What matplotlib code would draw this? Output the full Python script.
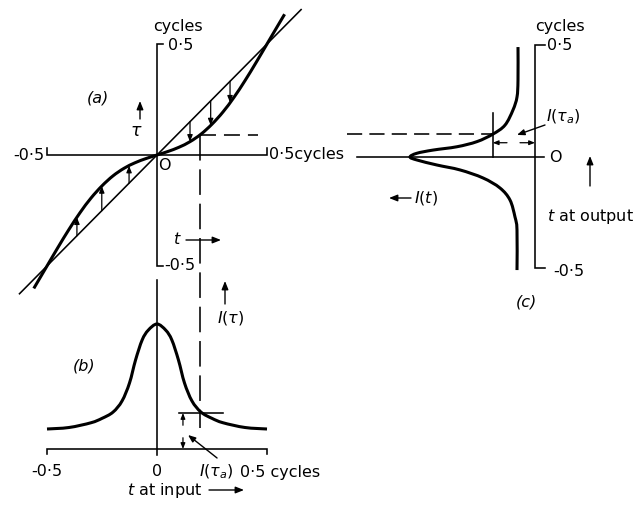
import matplotlib
matplotlib.use("Agg")
import matplotlib.pyplot as plt
from matplotlib.patches import ArrowStyle, PathPatch
from matplotlib.path import Path
import numpy as np

plt.rcParams['font.family'] = ['DejaVu Sans']
plt.rcParams['mathtext.fontset'] = 'dejavusans'

# ---------------- data (cycles) ----------------
# (a) transfer curve tau(t)
a_t = [-0.56, -0.55, -0.5, -0.45, -0.4, -0.35, -0.3, -0.25, -0.2, -0.15, -0.1, -0.05, 0.0,
       0.05, 0.1, 0.15, 0.2, 0.25, 0.3, 0.35, 0.4, 0.45, 0.5, 0.55, 0.58]
a_tau = [-0.601, -0.584, -0.5, -0.416, -0.335, -0.26, -0.194, -0.139, -0.094, -0.06, -0.035, -0.016, 0.0,
         0.016, 0.035, 0.06, 0.094, 0.139, 0.194, 0.26, 0.335, 0.416, 0.5, 0.584, 0.634]
a_line = [-0.625, 0.655]                 # straight line tau = t
a_arrow_t = [-0.364, -0.251, -0.127, 0.15, 0.244, 0.332]
a_t0, a_tau0 = 0.197, 0.092              # marked point
a_dash_end = 0.459

# (b) I(tau) versus t at input
b_t = [-0.5, -0.4, -0.3, -0.25, -0.2, -0.159, -0.125, -0.0975, -0.0675, -0.04, 0.0,
       0.04, 0.0675, 0.0975, 0.125, 0.159, 0.2, 0.25, 0.3, 0.4, 0.5]
b_I = [0.16, 0.172, 0.21, 0.245, 0.295, 0.384, 0.528, 0.712, 0.872, 0.95, 1.0,
       0.95, 0.872, 0.712, 0.528, 0.384, 0.295, 0.245, 0.21, 0.172, 0.16]
b_Ia = 0.288

# (c) I(t) versus t at output (plotted leftwards), lower branch then upper branch
c_lo_t = [-0.507, -0.327, -0.269, -0.193, -0.139, -0.094, -0.058, -0.036, -0.0135]
c_lo_I = [0.144, 0.144, 0.16, 0.2, 0.28, 0.416, 0.6, 0.784, 0.944]
c_tip_t, c_tip_I = 0.0, 1.0
c_up_t = [0.0166, 0.031, 0.046, 0.069, 0.103, 0.143, 0.211, 0.269, 0.345, 0.493]
c_up_I = [0.946, 0.816, 0.624, 0.464, 0.336, 0.24, 0.176, 0.144, 0.136, 0.136]
c_ta = 0.102
c_Ia = 0.338

# ---------------- layout ----------------
W, H = 635, 505
fig = plt.figure(figsize=(W / 100, H / 100), dpi=100, facecolor='white')

def full_axes(xlim, ylim, z):
    ax = fig.add_axes([0, 0, 1, 1], zorder=z)
    ax.set_xlim(*xlim)
    ax.set_ylim(*ylim)
    ax.axis('off')
    ax.patch.set_alpha(0)
    return ax

# panel (a): x px = 157 + 220 t ; y px = 155 - 222 tau
axA = full_axes((-157 / 220, (W - 157) / 220), ((155 - H) / 222, 155 / 222), 1)
# panel (b): x px = 157 + 220 t ; y px = 449 - 125 I
axB = full_axes((-157 / 220, (W - 157) / 220), ((449 - H) / 125, 449 / 125), 2)
# panel (c): x px = 535 - 125 I ; y px = 157 - 223 t
axC = full_axes((535 / 125, (535 - W) / 125), ((157 - H) / 223, 157 / 223), 3)
# pixel axes for annotations
axP = full_axes((0, W), (H, 0), 4)

K = 'black'
LW_AX = 1.15
LW_CURVE = 2.2
FS = 11.5
head = ArrowStyle('-|>', head_length=0.55, head_width=0.22)

def smooth(ax, xs, ys, lw):
    """Draw a smooth (Catmull-Rom -> cubic Bezier) curve through the given points."""
    P = np.column_stack([xs, ys]).astype(float)
    n = len(P)
    verts = [P[0]]
    codes = [Path.MOVETO]
    for i in range(n - 1):
        p0 = P[i - 1] if i > 0 else P[i]
        p1, p2 = P[i], P[i + 1]
        p3 = P[i + 2] if i + 2 < n else P[i + 1]
        verts += [p1 + (p2 - p0) / 6, p2 - (p3 - p1) / 6, p2]
        codes += [Path.CURVE4] * 3
    ax.add_patch(PathPatch(Path(verts, codes), fill=False, lw=lw, ec=K,
                           capstyle='butt', joinstyle='round'))

def arrow(ax, x0, y0, x1, y1, ms=9, lw=1.0):
    ax.annotate('', xy=(x1, y1), xytext=(x0, y0),
                arrowprops=dict(arrowstyle=head, color=K, lw=lw, shrinkA=0, shrinkB=0,
                                mutation_scale=ms))

# ---- panel (a)
axA.plot([-0.5, -0.5, 0.5, 0.5], [0.032, 0, 0, 0.032], color=K, lw=LW_AX, solid_joinstyle='miter')
axA.plot([0.028, 0, 0, 0.028], [0.5, 0.5, -0.5, -0.5], color=K, lw=LW_AX, solid_joinstyle='miter')
axA.plot(a_line, a_line, color=K, lw=LW_AX)
smooth(axA, a_t, a_tau, LW_CURVE)
for t in a_arrow_t:
    arrow(axA, t, t, t, float(np.interp(t, a_t, a_tau)), ms=7, lw=0.9)
axA.plot([a_t0, a_dash_end], [a_tau0, a_tau0], color=K, lw=LW_AX, dashes=(10, 5))
# vertical dashed line through (a) and (b)
end_b = axA.transData.inverted().transform(axB.transData.transform((a_t0, 0.168)))
axA.plot([a_t0, a_t0], [a_tau0, end_b[1]], color=K, lw=LW_AX, dashes=(16, 5.5))

axP.text(178, 26, 'cycles', fontsize=FS, ha='center', va='center')
axP.text(168, 46, '0·5', fontsize=FS, ha='left', va='center')
axP.text(98, 98, '(a)', fontsize=FS, ha='center', va='center', style='italic')
arrow(axP, 140, 119, 140, 101)
axP.text(136, 131, 'τ', fontsize=FS + 1, ha='center', va='center', style='italic')
axP.text(44, 155, '-0·5', fontsize=FS, ha='right', va='center')
axP.text(164, 165, 'O', fontsize=FS, ha='center', va='center')
axP.text(269, 155, '0·5cycles', fontsize=FS, ha='left', va='center')
axP.text(177, 240, 't', fontsize=FS, ha='center', va='center', style='italic')
arrow(axP, 186, 240, 221, 240)
axP.text(164, 266, '-0·5', fontsize=FS, ha='left', va='center')

# ---- panel (b)
axB.plot([-0.5, -0.5, 0.5, 0.5], [-0.04, 0, 0, -0.04], color=K, lw=LW_AX, solid_joinstyle='miter')
axB.plot([0, 0], [1.352, -0.048], color=K, lw=LW_AX)
smooth(axB, b_t, b_I, LW_CURVE)
axB.plot([0.1, 0.3], [b_Ia, b_Ia], color=K, lw=LW_AX)
arrow(axB, 0.118, 0.19, 0.118, b_Ia, ms=6, lw=0.9)
arrow(axB, 0.118, 0.09, 0.118, 0.0, ms=6, lw=0.9)
arrow(axB, 0.273, -0.072, 0.141, 0.112, ms=8, lw=1.0)

arrow(axP, 225, 304, 225, 281)
axP.text(231, 318, '$I(\\tau)$', fontsize=FS, ha='center', va='center')
axP.text(84, 366, '(b)', fontsize=FS, ha='center', va='center', style='italic')
axP.text(47, 472, '-0·5', fontsize=FS, ha='center', va='center')
axP.text(157, 472, '0', fontsize=FS, ha='center', va='center')
axP.text(216, 472, '$I(\\tau_a)$', fontsize=FS, ha='center', va='center')
axP.text(240, 472, '0·5 cycles', fontsize=FS, ha='left', va='center')
axP.text(127, 490, '$t$ at input', fontsize=FS, ha='left', va='center')
arrow(axP, 209, 490, 244, 490)

# ---- panel (c)
axC.plot([-0.08, 0, 0, -0.08], [0.5, 0.5, -0.5, -0.5], color=K, lw=LW_AX, solid_joinstyle='miter')
axC.plot([1.424, -0.07], [0, 0], color=K, lw=LW_AX)
smooth(axC, c_lo_I + [c_tip_I] + c_up_I, c_lo_t + [c_tip_t] + c_up_t, LW_CURVE)
axC.plot([c_Ia, c_Ia], [0.197, 0.0], color=K, lw=LW_AX)
axC.plot([1.504, c_Ia], [c_ta, c_ta], color=K, lw=LW_AX, dashes=(9.5, 4.5))
arrow(axC, 0.224, 0.064, c_Ia, 0.064, ms=6, lw=0.9)
arrow(axC, 0.12, 0.064, 0.0, 0.064, ms=6, lw=0.9)
arrow(axC, -0.08, 0.1435, 0.144, 0.099, ms=8, lw=1.0)

axP.text(560, 26, 'cycles', fontsize=FS, ha='center', va='center')
axP.text(547, 46, '0·5', fontsize=FS, ha='left', va='center')
axP.text(546, 117, '$I(\\tau_a)$', fontsize=FS, ha='left', va='center')
axP.text(555, 157, 'O', fontsize=FS, ha='center', va='center')
axP.text(414, 198, '$I(t)$', fontsize=FS, ha='left', va='center')
arrow(axP, 411, 198, 389, 198)
arrow(axP, 590, 186, 590, 156)
axP.text(547, 216, '$t$ at output', fontsize=FS, ha='left', va='center', clip_on=True)
axP.text(553, 271, '-0·5', fontsize=FS, ha='left', va='center')
axP.text(526, 302, '(c)', fontsize=FS, ha='center', va='center', style='italic')

fig.savefig('out.png', dpi=100, facecolor='white')
